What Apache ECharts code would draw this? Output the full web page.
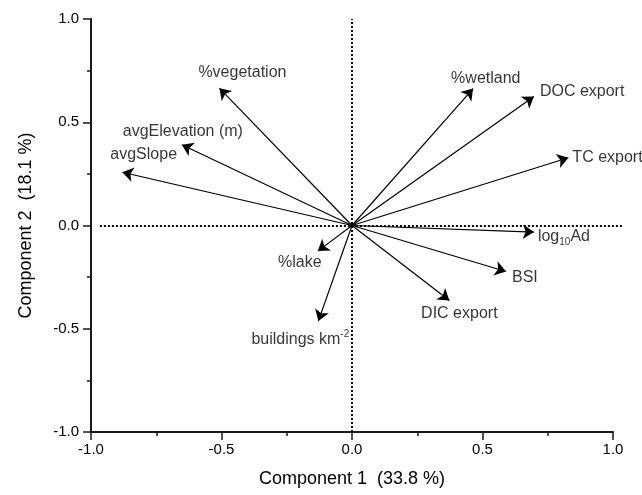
<!DOCTYPE html>
<html>
<head>
<meta charset="utf-8">
<script src="https://cdn.jsdelivr.net/npm/echarts@6/dist/echarts.min.js"></script>
<style>
html,body{margin:0;padding:0;background:#fff;}
#chart{width:642px;height:495px;}
</style>
</head>
<body>
<div id="chart"></div>
<script>
// Loadings (arrow tips)
const variables = ['%vegetation', 'avgElevation (m)', 'avgSlope', '%wetland', 'DOC export', 'TC export', 'log10Ad', 'BSI', 'DIC export', '%lake', 'buildings km-2'];
const component1 = [-0.508, -0.652, -0.88, 0.464, 0.697, 0.829, 0.697, 0.590, 0.373, -0.131, -0.129];
const component2 = [0.665, 0.391, 0.258, 0.663, 0.625, 0.328, -0.032, -0.223, -0.363, -0.124, -0.463];
const axisTicks = [-1.0, -0.5, 0.0, 0.5, 1.0];
const xTitle = 'Component 1  (33.8 %)';
const yTitle = 'Component 2  (18.1 %)';

// Label layout (style only): [dx, dy, align]
const labelLayout = {
  '%vegetation': [23, -16, 'center'],
  'avgElevation (m)': [-59, -13, 'left'],
  'avgSlope': [-12, -18, 'left'],
  '%wetland': [-22, -10, 'left'],
  'DOC export': [6, -5, 'left'],
  'TC export': [4, 0, 'left'],
  'log10Ad': [4, 4, 'left'],
  'BSI': [6, 6, 'left'],
  'DIC export': [10, 13, 'center'],
  '%lake': [-18, 11, 'center'],
  'buildings km-2': [-18, 18, 'center']
};
const richText = {
  'log10Ad': 'log{sub|10}Ad',
  'buildings km-2': 'buildings km{sup|-2}'
};

const FONT = '"Liberation Sans", Arial, sans-serif';
const chart = echarts.init(document.getElementById('chart'), null, {renderer: 'canvas'});

const arrowData = variables.map((v, i) => ({coords: [[0, 0], [component1[i], component2[i]]]}));
const labelData = variables.map((v, i) => {
  const l = labelLayout[v];
  return {
    value: [component1[i], component2[i]],
    name: v,
    label: {offset: [l[0], l[1]], align: l[2]}
  };
});

const axisCommon = {
  type: 'value',
  min: axisTicks[0],
  max: axisTicks[axisTicks.length - 1],
  interval: 0.5,
  splitLine: {show: false},
  axisLine: {show: true, onZero: false, lineStyle: {color: '#1a1a1a', width: 2}},
  axisTick: {show: true, inside: false, length: 8, lineStyle: {color: '#1a1a1a', width: 1.5}},
  minorTick: {show: true, splitNumber: 2, length: 4, lineStyle: {color: '#1a1a1a', width: 1.5}},
  axisLabel: {color: '#000', fontFamily: FONT, fontSize: 15, formatter: v => v.toFixed(1)},
  nameLocation: 'middle',
  nameTextStyle: {color: '#000', fontFamily: FONT, fontSize: 18}
};

chart.setOption({
  animation: false,
  backgroundColor: '#fff',
  grid: {left: 91, right: 29, top: 19, bottom: 63, containLabel: false},
  xAxis: Object.assign({}, axisCommon, {
    name: xTitle, nameGap: 38,
    axisLabel: Object.assign({}, axisCommon.axisLabel, {margin: 10})
  }),
  yAxis: Object.assign({}, axisCommon, {
    name: yTitle, nameGap: 56, nameRotate: 90,
    axisLabel: Object.assign({}, axisCommon.axisLabel, {margin: 12})
  }),
  series: [
    {
      type: 'lines',
      coordinateSystem: 'cartesian2d',
      silent: true,
      clip: false,
      symbol: ['none', 'none'],
      lineStyle: {color: '#000', width: 2, type: [2, 2], opacity: 1},
      data: [
        {coords: [[-0.966, 0], [1.038, 0]]},
        {coords: [[0, -1.0], [0, 1.0]]}
      ],
      z: 1
    },
    {
      type: 'lines',
      coordinateSystem: 'cartesian2d',
      silent: true,
      clip: false,
      symbol: ['none', 'arrow'],
      symbolSize: 11,
      lineStyle: {color: '#000', width: 1.2, opacity: 1},
      itemStyle: {color: '#000'},
      data: arrowData,
      z: 2
    },
    {
      type: 'scatter',
      silent: true,
      clip: false,
      symbolSize: 1,
      itemStyle: {color: 'rgba(0,0,0,0)'},
      label: {
        show: true,
        position: 'inside',
        verticalAlign: 'middle',
        color: '#000',
        fontFamily: FONT,
        fontSize: 16,
        formatter: p => richText[p.name] || p.name,
        rich: {
          sub: {fontFamily: FONT, fontSize: 10, color: '#000', padding: [12, 0, 0, 0]},
          sup: {fontFamily: FONT, fontSize: 10, color: '#000', padding: [0, 0, 10, 0]}
        }
      },
      data: labelData,
      z: 3
    }
  ]
});
</script>
</body>
</html>
